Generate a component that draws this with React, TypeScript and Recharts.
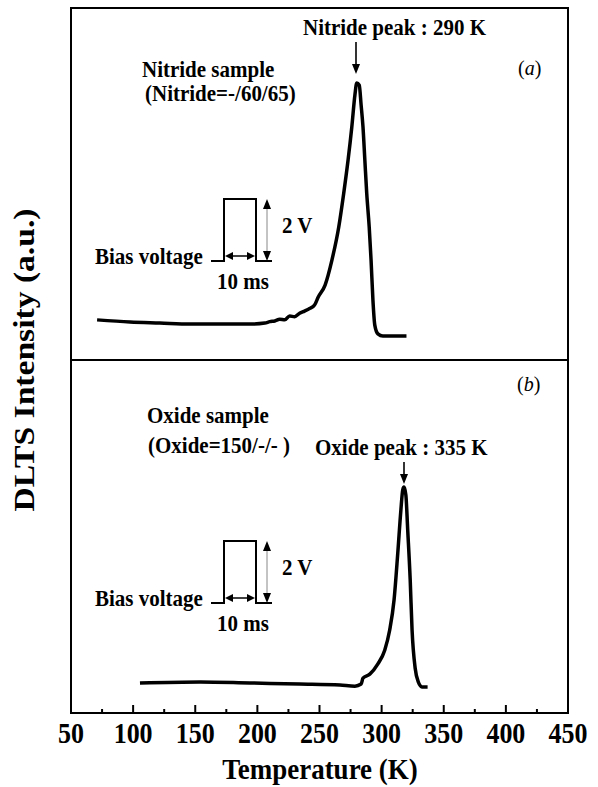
import { LineChart, Line, XAxis, YAxis, ReferenceArea } from "recharts";

// values (temperature in K, intensity in a.u. 0-100 per panel)
const nitrideT = [
  71, 97.5, 121.5, 146, 170, 194, 206, 210, 214, 218, 222, 226, 230, 234, 238, 242, 246, 249,
  254.5, 260, 265.5, 269.5, 273, 276, 278.5, 280, 282, 283.5, 285, 286.5, 288, 290, 291.5, 293,
  294.5, 297, 301, 320,
];
const nitrideV = [
  11.4, 10.8, 10.5, 10.2, 10.2, 10.2, 10.5, 10.9, 11.1, 11.6, 11.4, 12.5, 12.3, 13.3, 13.9, 14.6,
  15.6, 17.9, 21.3, 28.4, 37.8, 47.4, 56.8, 66.2, 75.3, 78.7, 78.1, 72.4, 66.2, 56.8, 47.4, 37.8,
  28.4, 17, 9.9, 7.4, 6.8, 6.8,
];
const oxideT = [
  105.5, 154, 194, 234, 266.5, 278.5, 283.5, 285, 290.5, 297, 302.5, 306.5, 310, 313, 315.5, 317,
  318, 319.5, 321, 323, 324.5, 327, 329.5, 332.5, 337,
];
const oxideV = [
  8.5, 8.8, 8.5, 8.2, 7.9, 7.6, 8.2, 9.9, 11, 13.9, 17.8, 23.5, 32, 45.3, 57.5, 63.2, 64, 61.8,
  51.8, 37.7, 23.5, 12.7, 8.8, 7.4, 7.4,
];
const xTicks = [50, 75, 100, 125, 150, 175, 200, 225, 250, 275, 300, 325, 350, 375, 400, 425, 450];

const nitrideData = nitrideT.map((t, i) => ({ t, v: nitrideV[i] }));
const oxideData = oxideT.map((t, i) => ({ t, v: oxideV[i] }));

const FONT = '"Liberation Serif", "Times New Roman", serif';

// the scanned figure is a little taller than wide, so text gets a small vertical stretch
function Txt({ x, y, size = 21, sy = 1.08, anchor = "start", children, ...rest }: any) {
  return (
    <text
      transform={`translate(${x},${y}) scale(1,${sy})`}
      fontSize={size}
      textAnchor={anchor}
      {...rest}
    >
      {children}
    </text>
  );
}

function TempTick({ x, y, payload }: any) {
  const major = payload.value % 50 === 0;
  return (
    <g>
      <line x1={x} x2={x} y1={y} y2={y - (major ? 8 : 4)} stroke="#000" strokeWidth={2} />
      {major && (
        <text
          transform={`translate(${x},${y + 30}) scale(1,1.14)`}
          textAnchor="middle"
          fontFamily={FONT}
          fontWeight="bold"
          fontSize={26}
          fill="#000"
        >
          {payload.value}
        </text>
      )}
    </g>
  );
}

function Arrow({ x, y1, y2 }: { x: number; y1: number; y2: number }) {
  return (
    <g>
      <line x1={x} x2={x} y1={y1} y2={y2 - 8} stroke="#000" strokeWidth={1.6} />
      <polygon points={`${x - 4},${y2 - 10} ${x + 4},${y2 - 10} ${x},${y2}`} fill="#000" />
    </g>
  );
}

function Pulse({ dy }: { dy: number }) {
  const base = 261 + dy;
  const top = 199 + dy;
  const mid = 256 + dy;
  return (
    <g>
      <path d={`M211,${base} H224 V${top} H256 V${base} H272`} fill="none" stroke="#000" strokeWidth={2} />
      <line x1={231} x2={249} y1={mid} y2={mid} stroke="#000" strokeWidth={1.5} />
      <polygon points={`225,${mid} 233,${mid - 4} 233,${mid + 4}`} fill="#000" />
      <polygon points={`255,${mid} 247,${mid - 4} 247,${mid + 4}`} fill="#000" />
      <line x1={267} x2={267} y1={top + 8} y2={base - 8} stroke="#888" strokeWidth={1} />
      <polygon points={`267,${top} 263,${top + 10} 271,${top + 10}`} fill="#000" />
      <polygon points={`267,${base} 263,${base - 10} 271,${base - 10}`} fill="#000" />
      <Txt x={282} y={233 + dy}>2 V</Txt>
      <Txt x={95} y={264 + dy}>Bias voltage</Txt>
      <Txt x={217} y={289 + dy}>10 ms</Txt>
    </g>
  );
}

export default function App() {
  return (
    <div style={{ position: "absolute", left: 0, top: 0, width: 598, height: 787, background: "#fff" }}>
      <div style={{ position: "absolute", left: 0, top: 0 }}>
        <LineChart width={598} height={368} data={nitrideData} margin={{ top: 8, right: 30, left: 71, bottom: 8 }}>
          <XAxis type="number" dataKey="t" domain={[50, 450]} hide />
          <YAxis type="number" domain={[0, 100]} hide />
          <ReferenceArea x1={50} x2={450} y1={0} y2={100} fill="none" stroke="#000" strokeWidth={2} />
          <Line
            type="monotone"
            dataKey="v"
            stroke="#000"
            strokeWidth={3.5}
            dot={false}
            isAnimationActive={false}
          />
        </LineChart>
      </div>
      <div style={{ position: "absolute", left: 0, top: 352 }}>
        <LineChart width={598} height={435} data={oxideData} margin={{ top: 8, right: 30, left: 71, bottom: 0 }}>
          <XAxis
            type="number"
            dataKey="t"
            domain={[50, 450]}
            ticks={xTicks}
            interval={0}
            height={74}
            axisLine={false}
            tickLine={false}
            tickSize={0}
            tickMargin={0}
            tick={<TempTick />}
          />
          <YAxis type="number" domain={[0, 100]} hide />
          <ReferenceArea x1={50} x2={450} y1={0} y2={100} fill="none" stroke="#000" strokeWidth={2} />
          <Line
            type="monotone"
            dataKey="v"
            stroke="#000"
            strokeWidth={3.5}
            dot={false}
            isAnimationActive={false}
          />
        </LineChart>
      </div>
      <svg
        width={598}
        height={787}
        style={{ position: "absolute", left: 0, top: 0, pointerEvents: "none" }}
        fontFamily={FONT}
        fontWeight="bold"
        fill="#000"
      >
        {/* panel (a) */}
        <Txt x={303} y={35}>Nitride peak : 290 K</Txt>
        <Arrow x={356} y1={42} y2={74} />
        <Txt x={142} y={77}>Nitride sample</Txt>
        <Txt x={145} y={101}>(Nitride=-/60/65)</Txt>
        <Txt x={518} y={75} size={20} fontWeight="normal">
          (<tspan fontStyle="italic">a</tspan>)
        </Txt>
        <Pulse dy={0} />

        {/* panel (b) */}
        <Txt x={147} y={423}>Oxide sample</Txt>
        <Txt x={148} y={453}>(Oxide=150/-/- )</Txt>
        <Txt x={315} y={455}>Oxide peak : 335 K</Txt>
        <Arrow x={404} y1={462} y2={484} />
        <Txt x={517} y={391} size={20} fontWeight="normal">
          (<tspan fontStyle="italic">b</tspan>)
        </Txt>
        <Pulse dy={342} />

        {/* axis titles */}
        <Txt x={320} y={779} size={27} sy={1.12} anchor="middle">Temperature (K)</Txt>
        <text
          transform="translate(34,360) rotate(-90) scale(1.12,1)"
          fontSize={30}
          textAnchor="middle"
        >
          DLTS Intensity (a.u.)
        </text>
      </svg>
    </div>
  );
}
